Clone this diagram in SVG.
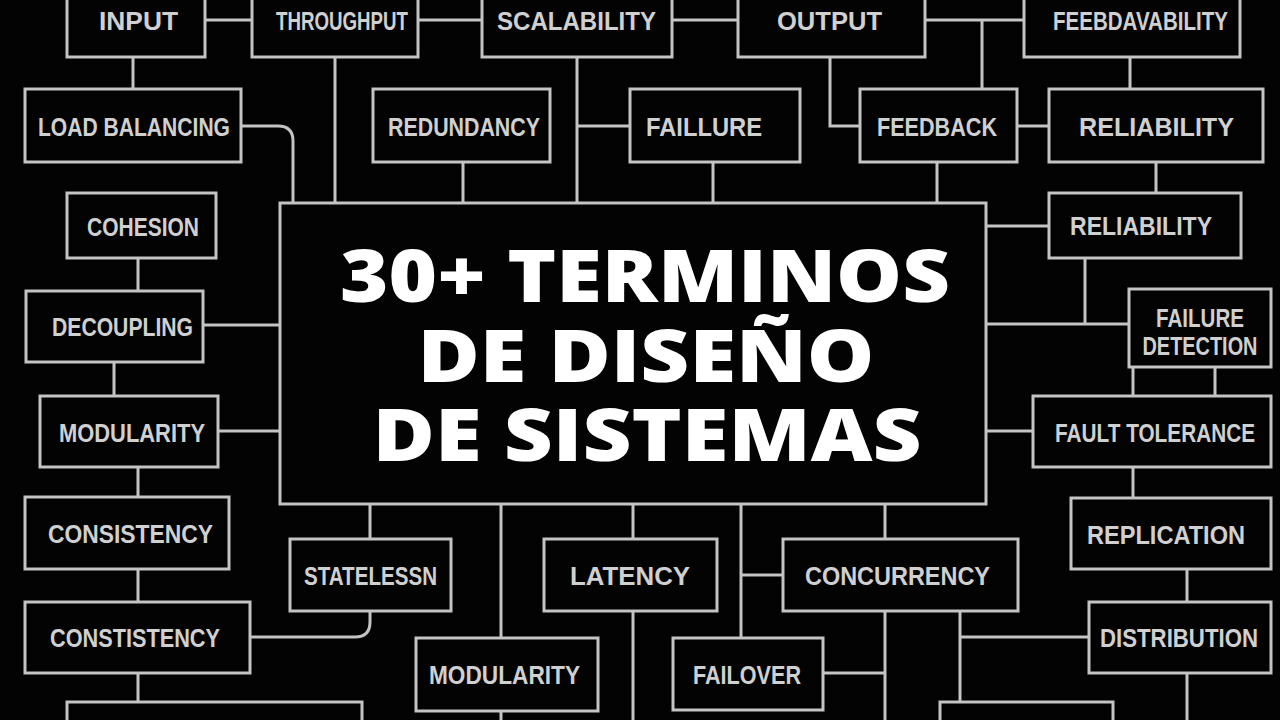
<svg xmlns="http://www.w3.org/2000/svg" width="1280" height="720" viewBox="0 0 1280 720">
<style>
.bg{fill:#030303}
.box{fill:#030303;stroke:#c4c4c4;stroke-width:3}
.lbl{font-family:"Liberation Sans Narrow","Liberation Sans",Arial,sans-serif;font-weight:bold;font-size:26px;fill:#d0d0d0;text-anchor:middle}
.ttl{font-family:"Open Sans","Liberation Sans",sans-serif;font-weight:800;font-size:72px;fill:#ffffff;text-anchor:middle}
#connectors path{fill:none;stroke:#c4c4c4;stroke-width:3}
</style>
<rect class="bg" x="0" y="0" width="1280" height="720"/>
<g id="connectors">
<path d="M205,20 H252"/>
<path d="M418,20 H482"/>
<path d="M672,20 H738"/>
<path d="M925,20 H1024"/>
<path d="M982,20 V89"/>
<path d="M133,57 V89"/>
<path d="M241,126 H278 Q293,126 293,141 V203"/>
<path d="M335,57 V203"/>
<path d="M463,162 V203"/>
<path d="M577,57 V203"/>
<path d="M577,126 H630"/>
<path d="M713,162 V203"/>
<path d="M830,57 V126 H860"/>
<path d="M937,162 V203"/>
<path d="M1017,126 H1049"/>
<path d="M1130,57 V89"/>
<path d="M1156,162 V193"/>
<path d="M138,258 V291"/>
<path d="M203,325 H280"/>
<path d="M114,362 V396"/>
<path d="M218,431 H280"/>
<path d="M138,467 V497"/>
<path d="M138,569 V602"/>
<path d="M138,673 V702"/>
<path d="M370,504 V539"/>
<path d="M370,611 V622 Q370,637 355,637 H250"/>
<path d="M501,504 V638"/>
<path d="M501,711 V722"/>
<path d="M633,504 V539"/>
<path d="M633,611 V722"/>
<path d="M741,504 V638"/>
<path d="M741,575 H783"/>
<path d="M885,504 V539"/>
<path d="M885,611 V722"/>
<path d="M823,673 H885"/>
<path d="M960,611 V702"/>
<path d="M960,637 H1089"/>
<path d="M986,226 H1049"/>
<path d="M1085,258 V324"/>
<path d="M986,324 H1129"/>
<path d="M1133,367 V396"/>
<path d="M1215,367 V396"/>
<path d="M986,431 H1033"/>
<path d="M1133,467 V498"/>
<path d="M1187,569 V602"/>
<path d="M1187,673 V722"/>
</g>
<g id="center"><rect class="box" x="280" y="203" width="706" height="301"/>
<text class="ttl" x="645" y="302" textLength="610" lengthAdjust="spacingAndGlyphs">30+ TERMINOS</text>
<text class="ttl" x="646" y="382" textLength="457" lengthAdjust="spacingAndGlyphs">DE DISEÑO</text>
<text class="ttl" x="647" y="461" textLength="549" lengthAdjust="spacingAndGlyphs">DE SISTEMAS</text></g>
<g id="input"><rect class="box" x="67" y="-10" width="138" height="67"/><text class="lbl" x="138.5" y="29.5" textLength="79" lengthAdjust="spacingAndGlyphs">INPUT</text></g>
<g id="throughput"><rect class="box" x="252" y="-10" width="166" height="67"/><text class="lbl" x="342" y="29.5" textLength="132" lengthAdjust="spacingAndGlyphs">THROUGHPUT</text></g>
<g id="scalability"><rect class="box" x="482" y="-10" width="190" height="67"/><text class="lbl" x="576.5" y="29.5" textLength="159" lengthAdjust="spacingAndGlyphs">SCALABILITY</text></g>
<g id="output"><rect class="box" x="738" y="-10" width="187" height="67"/><text class="lbl" x="829.5" y="29.5" textLength="105" lengthAdjust="spacingAndGlyphs">OUTPUT</text></g>
<g id="feebdavability"><rect class="box" x="1024" y="-10" width="216" height="67"/><text class="lbl" x="1140.5" y="29.5" textLength="175" lengthAdjust="spacingAndGlyphs">FEEBDAVABILITY</text></g>
<g id="load-balancing"><rect class="box" x="25" y="89" width="216" height="73"/><text class="lbl" x="134" y="135.5" textLength="192" lengthAdjust="spacingAndGlyphs">LOAD BALANCING</text></g>
<g id="redundancy"><rect class="box" x="373" y="89" width="177" height="73"/><text class="lbl" x="464" y="135.5" textLength="152" lengthAdjust="spacingAndGlyphs">REDUNDANCY</text></g>
<g id="faillure"><rect class="box" x="630" y="89" width="170" height="73"/><text class="lbl" x="704" y="135.5" textLength="116" lengthAdjust="spacingAndGlyphs">FAILLURE</text></g>
<g id="feedback"><rect class="box" x="860" y="89" width="157" height="73"/><text class="lbl" x="937" y="135.5" textLength="120" lengthAdjust="spacingAndGlyphs">FEEDBACK</text></g>
<g id="reliability-1"><rect class="box" x="1049" y="89" width="214" height="73"/><text class="lbl" x="1156.5" y="135.5" textLength="155" lengthAdjust="spacingAndGlyphs">RELIABILITY</text></g>
<g id="cohesion"><rect class="box" x="67" y="193" width="149" height="65"/><text class="lbl" x="143" y="235.5" textLength="112" lengthAdjust="spacingAndGlyphs">COHESION</text></g>
<g id="reliability-2"><rect class="box" x="1049" y="193" width="192" height="65"/><text class="lbl" x="1141" y="234.5" textLength="142" lengthAdjust="spacingAndGlyphs">RELIABILITY</text></g>
<g id="decoupling"><rect class="box" x="26" y="291" width="177" height="71"/><text class="lbl" x="122.5" y="335.5" textLength="141" lengthAdjust="spacingAndGlyphs">DECOUPLING</text></g>
<g id="failure-detection"><rect class="box" x="1129" y="289" width="142" height="78"/><text class="lbl" x="1200" y="326.5" textLength="88" lengthAdjust="spacingAndGlyphs">FAILURE</text><text class="lbl" x="1200" y="354.5" textLength="115" lengthAdjust="spacingAndGlyphs">DETECTION</text></g>
<g id="modularity-1"><rect class="box" x="40" y="396" width="178" height="71"/><text class="lbl" x="132" y="441.5" textLength="146" lengthAdjust="spacingAndGlyphs">MODULARITY</text></g>
<g id="fault-tolerance"><rect class="box" x="1033" y="396" width="238" height="71"/><text class="lbl" x="1155" y="441.5" textLength="200" lengthAdjust="spacingAndGlyphs">FAULT TOLERANCE</text></g>
<g id="consistency"><rect class="box" x="25" y="497" width="204" height="72"/><text class="lbl" x="130.5" y="542.5" textLength="165" lengthAdjust="spacingAndGlyphs">CONSISTENCY</text></g>
<g id="replication"><rect class="box" x="1071" y="498" width="200" height="71"/><text class="lbl" x="1166" y="543.5" textLength="158" lengthAdjust="spacingAndGlyphs">REPLICATION</text></g>
<g id="statelessn"><rect class="box" x="290" y="539" width="161" height="72"/><text class="lbl" x="370.5" y="584.5" textLength="133" lengthAdjust="spacingAndGlyphs">STATELESSN</text></g>
<g id="latency"><rect class="box" x="544" y="539" width="173" height="72"/><text class="lbl" x="630" y="584.5" textLength="120" lengthAdjust="spacingAndGlyphs">LATENCY</text></g>
<g id="concurrency"><rect class="box" x="783" y="539" width="235" height="72"/><text class="lbl" x="897.5" y="584.5" textLength="185" lengthAdjust="spacingAndGlyphs">CONCURRENCY</text></g>
<g id="constistency"><rect class="box" x="25" y="602" width="225" height="71"/><text class="lbl" x="135" y="646.5" textLength="170" lengthAdjust="spacingAndGlyphs">CONSTISTENCY</text></g>
<g id="distribution"><rect class="box" x="1089" y="602" width="182" height="71"/><text class="lbl" x="1179" y="646.5" textLength="158" lengthAdjust="spacingAndGlyphs">DISTRIBUTION</text></g>
<g id="modularity-2"><rect class="box" x="416" y="638" width="182" height="73"/><text class="lbl" x="504.5" y="683.5" textLength="151" lengthAdjust="spacingAndGlyphs">MODULARITY</text></g>
<g id="failover"><rect class="box" x="673" y="638" width="150" height="72"/><text class="lbl" x="747" y="683.5" textLength="108" lengthAdjust="spacingAndGlyphs">FAILOVER</text></g>
<g id="bottom-left"><rect class="box" x="67" y="702" width="295" height="40"/></g>
<g id="bottom-right"><rect class="box" x="940" y="702" width="173" height="40"/></g>
</svg>
